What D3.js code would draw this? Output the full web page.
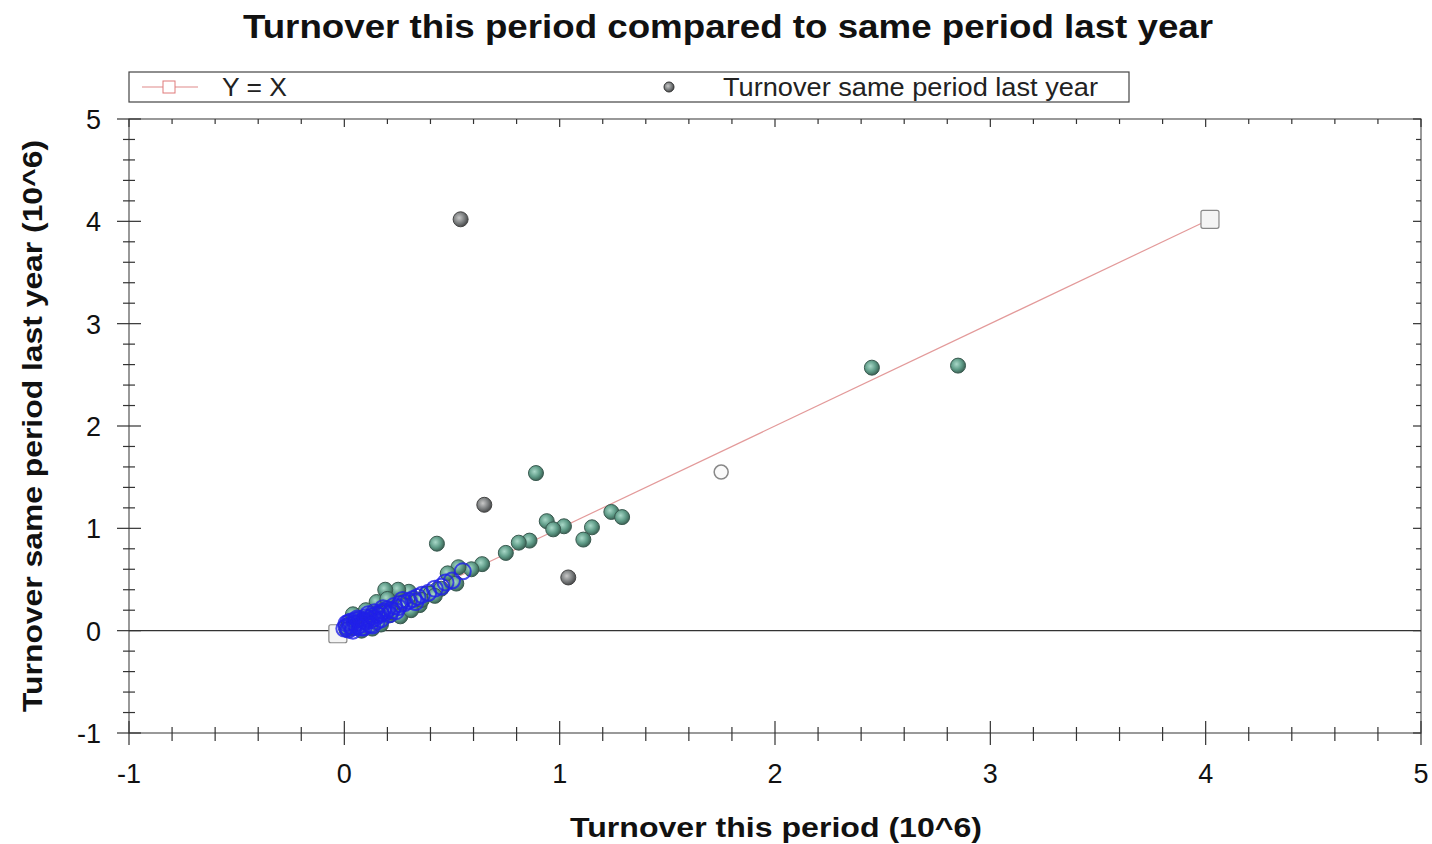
<!DOCTYPE html>
<html><head><meta charset="utf-8">
<script src="https://cdn.jsdelivr.net/npm/d3@7"></script>
<style>body{margin:0;background:#fff;font-family:"Liberation Sans",Arial,sans-serif;}</style>
</head><body>
<svg id="c" width="1432" height="844"></svg>
<script>
// ---- data ----
const titleText = "Turnover this period compared to same period last year";
const xLabel = "Turnover this period (10^6)";
const yLabel = "Turnover same period last year (10^6)";
const xTicks = [-1,0,1,2,3,4,5];
const yTicks = [-1,0,1,2,3,4,5];
const legendLabels = ["Y = X","Turnover same period last year"];
// Y = X reference line (endpoints with square markers)
const lineX = [-0.03, 4.02];
const lineY = [-0.03, 4.02];
// scatter: turnover this period (x) vs same period last year (y)
const ptX = [0.54,2.45,2.85,0.89,0.65,0.43,1.04,0.94,1.02,0.97,1.15,1.11,1.24,1.29,0.86,0.81,0.75,0.64,0.59,0.53,0.48,0.52,0.43,0.38,0.32,0.30,0.25,0.19,0.24,0.16,0.12,0.14,0.09,0.07,0.05,0.03,0.02,0.01,0.11,0.18,0.21,0.27,0.34,0.40,0.45,0.06,0.08,0.13,0.22,0.28,0.15,0.10,0.20,0.35,0.04,0.17,0.26,0.31,0.36,0.42];
const ptY = [4.02,2.57,2.59,1.54,1.23,0.85,0.52,1.07,1.02,0.99,1.01,0.89,1.16,1.11,0.88,0.86,0.76,0.65,0.60,0.62,0.56,0.46,0.40,0.36,0.31,0.38,0.40,0.40,0.22,0.20,0.15,0.08,0.11,0.05,0.09,0.02,0.06,0.01,0.04,0.12,0.15,0.25,0.29,0.36,0.41,0.14,0.00,0.02,0.18,0.24,0.28,0.20,0.31,0.25,0.16,0.06,0.14,0.20,0.30,0.34];
const ptGrey = [1,0,0,0,1,0,1,0,0,0,0,0,0,0,0,0,0,0,0,0,0,0,0,0,0,0,0,0,0,0,0,0,0,0,0,0,0,0,0,0,0,0,0,0,0,0,0,0,0,0,0,0,0,0,0,0,0,0,0,0];
// open (unfilled) point
const openX = [1.75];
const openY = [1.55];
// blue outlined points near origin
const blueX = [0.00,0.01,0.02,0.03,0.04,0.05,0.06,0.07,0.08,0.09,0.10,0.11,0.12,0.13,0.14,0.15,0.16,0.17,0.18,0.19,0.20,0.22,0.23,0.25,0.26,0.28,0.30,0.32,0.34,0.36,0.39,0.42,0.45,0.47,0.50,0.55,0.02,0.05,0.08,0.12,0.15,0.04,0.07,0.10,0.03,0.06,0.09,0.11,0.14,0.17,0.21,0.24,0.01,0.13,0.18,0.27,0.33];
const blueY = [0.02,0.04,0.01,0.05,0.03,0.07,0.04,0.08,0.06,0.10,0.09,0.12,0.10,0.14,0.12,0.16,0.15,0.17,0.19,0.18,0.21,0.20,0.24,0.23,0.26,0.27,0.29,0.31,0.33,0.35,0.37,0.41,0.43,0.47,0.49,0.58,0.08,0.10,0.03,0.06,0.09,0.00,0.11,0.13,0.09,0.12,0.03,0.16,0.18,0.11,0.16,0.19,0.07,0.05,0.22,0.30,0.28];

const svg = d3.select("#c");
const L = 129, R = 1421, T = 119, B = 733;
const x = d3.scaleLinear().domain([-1,5]).range([L,R]);
const y = d3.scaleLinear().domain([-1,5]).range([B,T]);

const defs = svg.append("defs");
function grad(id, c1, c2, c3){
  const g = defs.append("radialGradient").attr("id",id).attr("cx","40%").attr("cy","40%").attr("r","60%");
  g.append("stop").attr("offset","0%").attr("stop-color",c1);
  g.append("stop").attr("offset","60%").attr("stop-color",c2);
  g.append("stop").attr("offset","100%").attr("stop-color",c3);
}
grad("gG","#a9d8c8","#5f9c88","#3d6658");
grad("gK","#c8c8c8","#7c7f80","#4a4c4d");

// title
svg.append("text").attr("x",243).attr("y",38)
  .attr("font-size",33).attr("font-weight","bold").attr("fill","#111")
  .attr("textLength",970).attr("lengthAdjust","spacingAndGlyphs").text(titleText);

// legend
const lg = svg.append("g");
lg.append("rect").attr("x",129).attr("y",72).attr("width",1000).attr("height",30)
  .attr("fill","#fff").attr("stroke","#444").attr("stroke-width",1.2);
lg.append("line").attr("x1",142).attr("x2",198).attr("y1",87).attr("y2",87).attr("stroke","#e08a8a").attr("stroke-width",1.2);
lg.append("rect").attr("x",163).attr("y",81).attr("width",12).attr("height",12).attr("fill","#fff").attr("stroke","#e07a7a");
lg.append("text").attr("x",222).attr("y",96).attr("font-size",25).attr("fill","#222")
  .attr("textLength",65).attr("lengthAdjust","spacingAndGlyphs").text(legendLabels[0]);
lg.append("circle").attr("cx",669).attr("cy",87).attr("r",5).attr("fill","url(#gK)").attr("stroke","#333");
lg.append("text").attr("x",723).attr("y",96).attr("font-size",25).attr("fill","#222")
  .attr("textLength",375).attr("lengthAdjust","spacingAndGlyphs").text(legendLabels[1]);

// frame
svg.append("rect").attr("x",L).attr("y",T).attr("width",R-L).attr("height",B-T).attr("fill","none").attr("stroke","#555").attr("stroke-width",1.2);

// ticks
const minorX = d3.range(-1,5.001,0.2).map(v=>+v.toFixed(2));
const minorY = minorX;
const tg = svg.append("g").attr("stroke","#333").attr("stroke-width",1.2);
minorX.forEach(v=>{
  const maj = Math.abs(v-Math.round(v))<1e-6;
  tg.append("line").attr("x1",x(v)).attr("x2",x(v)).attr("y1",B-(maj?12:6)).attr("y2",B+(maj?12:8));
  tg.append("line").attr("x1",x(v)).attr("x2",x(v)).attr("y1",T).attr("y2",T+(maj?8:5));
});
minorY.forEach(v=>{
  const maj = Math.abs(v-Math.round(v))<1e-6;
  tg.append("line").attr("y1",y(v)).attr("y2",y(v)).attr("x1",L-(maj?12:6)).attr("x2",L+(maj?12:6));
  tg.append("line").attr("y1",y(v)).attr("y2",y(v)).attr("x1",R).attr("x2",R-(maj?8:5));
});

// tick labels
svg.append("g").selectAll("text").data(xTicks).join("text")
  .attr("x",d=>x(d)).attr("y",783).attr("text-anchor","middle").attr("font-size",27).attr("fill","#111").text(d=>d);
svg.append("g").selectAll("text").data(yTicks).join("text")
  .attr("x",101).attr("y",d=>y(d)+10).attr("text-anchor","end").attr("font-size",27).attr("fill","#111").text(d=>d);

// axis labels
svg.append("text").attr("x",570).attr("y",837).attr("font-size",27).attr("font-weight","bold").attr("fill","#111")
  .attr("textLength",412).attr("lengthAdjust","spacingAndGlyphs").text(xLabel);
svg.append("text").attr("transform",`translate(42,712) rotate(-90)`).attr("font-size",27).attr("font-weight","bold").attr("fill","#111")
  .attr("textLength",572).attr("lengthAdjust","spacingAndGlyphs").text(yLabel);

// zero line
svg.append("line").attr("x1",L).attr("x2",R).attr("y1",y(0)).attr("y2",y(0)).attr("stroke","#333").attr("stroke-width",1.2);

// Y = X line
const lineData = lineX.map((v,i)=>[v,lineY[i]]);
svg.append("path").datum(lineData).attr("d",d3.line().x(d=>x(d[0])).y(d=>y(d[1])))
  .attr("stroke","#e39a9a").attr("stroke-width",1.2).attr("fill","none");
svg.append("g").selectAll("rect").data(lineData).join("rect")
  .attr("x",d=>x(d[0])-9).attr("y",d=>y(d[1])-9).attr("width",18).attr("height",18).attr("rx",2)
  .attr("fill","#f4f4f4").attr("stroke","#888").attr("stroke-width",1.2);

// scatter points
const pts = ptX.map((v,i)=>({x:v,y:ptY[i],g:ptGrey[i]}));
svg.append("g").selectAll("circle").data(pts).join("circle")
  .attr("cx",d=>x(d.x)).attr("cy",d=>y(d.y)).attr("r",7.5)
  .attr("fill",d=>d.g?"url(#gK)":"url(#gG)").attr("stroke",d=>d.g?"#444":"#3a5a50").attr("stroke-width",1);

// open point
svg.append("g").selectAll("circle").data(openX.map((v,i)=>[v,openY[i]])).join("circle")
  .attr("cx",d=>x(d[0])).attr("cy",d=>y(d[1])).attr("r",7)
  .attr("fill","#fafafa").attr("stroke","#888").attr("stroke-width",1.5);

// blue outlined points
svg.append("g").selectAll("circle").data(blueX.map((v,i)=>[v,blueY[i]])).join("circle")
  .attr("cx",d=>x(d[0])).attr("cy",d=>y(d[1])).attr("r",8)
  .attr("fill","none").attr("stroke","#2020e8").attr("stroke-width",2).attr("stroke-opacity",0.8);
</script>
</body></html>
